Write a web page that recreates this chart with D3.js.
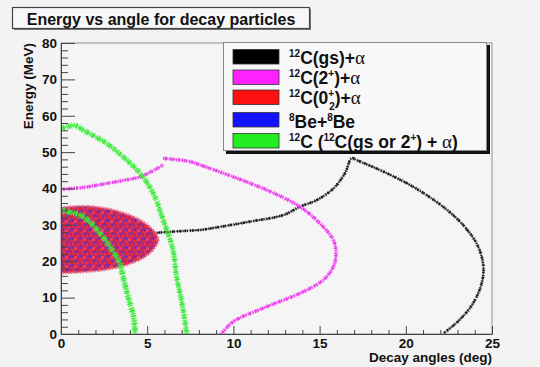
<!DOCTYPE html>
<html>
<head>
<meta charset="utf-8">
<script src="https://cdn.jsdelivr.net/npm/d3@7"></script>
<style>
  html, body { margin: 0; padding: 0; background: #f3f3f3; }
  svg { display: block; }
  text { font-family: "Liberation Sans", Arial, Helvetica, sans-serif; }
</style>
</head>
<body>
<svg id="chart" width="540" height="367"></svg>
<script>
// Energy (MeV) versus decay angle (deg) loci for each decay channel
const gsAlpha = [[0,26.5],[2,26.8],[4,27.2],[5.45,27.8],[7,28.3],[8.06,28.6],[9.03,29.3],[10.96,30.9],
  [12.9,32.7],[13.86,35],[14.83,36.8],[15.8,40],[16.47,44.2],[16.86,48.3],[17.15,47.8],[18.9,44.2],
  [20.6,40],[22.4,34.1],[23.5,29],[24.2,24],[24.5,18.5],[24.4,13.9],[23.9,8.4],[23.1,3.8],[22.2,0.2]];
const twoPlusLow = [[0,39.8],[1.3,40.3],[2.65,41.4],[3.6,42.2],[4.58,43.2],[5.3,44.8],[5.93,46.5]];
const twoPlusHigh = [[5.93,48.3],[7.48,47.4],[8.06,46.5],[9.99,43.2],[11.93,39.6],[13.86,35],[15.02,30.4],
  [15.8,25.8],[15.95,22.2],[15.8,18.5],[15.2,14.8],[13.86,11.2],[11.93,7.5],[9.99,3.4],[9.4,0.6],[9.25,0]];
const zeroPlusRegion = [[0,34.8],[1.2,35.2],[2.3,34.8],[3.5,33.5],[4.6,31.3],[5.3,28.8],[5.65,26],
  [5.4,23.5],[4.8,21],[3.8,19],[2.5,17.6],[1.2,17],[0,16.7]];
const sequentialOuter = [[0,56.5],[0.8,57.3],[1.3,56],[2.65,52.4],[3.6,48.7],[4.58,44.2],[5.35,38.7],
  [5.93,31.3],[6.5,23.1],[6.7,15.8],[7.0,9],[7.3,0]];
const sequentialInner = [[0,34],[1.3,32.2],[2.26,27.7],[2.84,24],[3.4,19.4],[3.6,15.8],[3.9,10],[4.2,5],[4.3,0]];

const xMajor = [0, 5, 10, 15, 20, 25];
const yMajor = [0, 10, 20, 30, 40, 50, 60, 70, 80];

const svg = d3.select("#chart");
const L = 61, R = 492, T = 43, B = 334;
const x = d3.scaleLinear().domain([0, 25]).range([L, R]);
const y = d3.scaleLinear().domain([0, 80]).range([B, T]);

// defs: clip and speckled fill for the 0+ region
const defs = svg.append("defs");
defs.append("clipPath").attr("id", "plotClip")
  .append("rect").attr("x", L).attr("y", T).attr("width", R - L).attr("height", B - T);
const pat = defs.append("pattern").attr("id", "speckle").attr("patternUnits", "userSpaceOnUse")
  .attr("width", 9).attr("height", 9);
pat.append("rect").attr("width", 9).attr("height", 9).attr("fill", "#a82a78");
[[1.5,1.5,"#f0283c",1.7],[6,2.2,"#e8304a",1.6],[3.5,5.5,"#ff3a50",1.7],[7.8,7.2,"#d82a40",1.4],
 [1,7.5,"#ee3048",1.2],[4.2,0.3,"#5a36c0",1],[0.3,4.4,"#4a30c8",1],[7.9,4.6,"#8a2aa8",1],[5.5,8.3,"#7a2cb0",0.8]]
 .forEach(d => {
  pat.append("circle").attr("cx", d[0]).attr("cy", d[1]).attr("r", d[3]).attr("fill", d[2]);
});

// plot frame
svg.append("rect").attr("x", L).attr("y", T).attr("width", R - L).attr("height", B - T)
  .attr("fill", "#f5f5f5").attr("stroke", "#a0a0a0").attr("stroke-width", 1.2);

const plot = svg.append("g").attr("clip-path", "url(#plotClip)");
const line = d3.line().x(d => x(d[0])).y(d => y(d[1])).curve(d3.curveCatmullRom.alpha(0.5));

// scattered-marker look along a locus
function grainy(data, color, width) {
  plot.append("path").datum(data).attr("d", line).attr("fill", "none")
    .attr("stroke", color).attr("stroke-width", width * 0.5).attr("opacity", 0.75)
    .attr("stroke-dasharray", "3 0.8 1.5 1.2 4 0.6");
  plot.append("path").datum(data).attr("d", line).attr("fill", "none")
    .attr("stroke", color).attr("stroke-width", width)
    .attr("stroke-dasharray", "1.2 0.9 2 1.6 0.8 1.1 1.7 0.7 1 1.9");
  plot.append("path").datum(data).attr("d", line).attr("fill", "none")
    .attr("stroke", color).attr("stroke-width", width * 1.45).attr("opacity", 0.3)
    .attr("stroke-dasharray", "0.9 2.6 1.2 3.4").attr("stroke-dashoffset", 1);
}

// 12C(gs)+alpha
grainy(gsAlpha, "#1a1a1a", 2.6);

// 12C(0+_2)+alpha and 8Be+8Be region
plot.append("path").datum(zeroPlusRegion.concat([[-0.2, 16.7], [-0.2, 34.8]]))
  .attr("d", line).attr("fill", "url(#speckle)")
  .attr("stroke", "#ee6a84").attr("stroke-width", 2.4).attr("stroke-dasharray", "1.4 1.1 2 1.4");

// 12C(2+)+alpha
grainy(twoPlusLow, "#ee3cee", 3.4);
grainy(twoPlusHigh, "#ee3cee", 3.4);

// sequential 12C(12C(gs or 2+)+alpha)
grainy(sequentialOuter, "#3bea3b", 5);
grainy(sequentialInner, "#3bea3b", 5.5);

// axes
const axisFont = "bold 13.5px 'Liberation Sans', Arial, sans-serif";
svg.append("g").attr("transform", `translate(0,${B})`)
  .call(d3.axisBottom(x).tickValues(xMajor).tickSizeInner(-8).tickSizeOuter(0).tickPadding(4)
    .tickFormat(d3.format("d")));
svg.append("g").attr("transform", `translate(0,${B})`)
  .call(d3.axisBottom(x).tickValues(d3.range(0, 26).filter(v => v % 5)).tickSize(-4).tickFormat(""))
  .call(g => g.select(".domain").remove());
svg.append("g").attr("transform", `translate(${L},0)`)
  .call(d3.axisLeft(y).tickValues(yMajor).tickSizeInner(-14).tickSizeOuter(0).tickPadding(4)
    .tickFormat(d3.format("d")));
svg.append("g").attr("transform", `translate(${L},0)`)
  .call(d3.axisLeft(y).tickValues(d3.range(0, 81, 2).filter(v => v % 10)).tickSize(-7).tickFormat(""))
  .call(g => g.select(".domain").remove());
svg.selectAll(".tick line, .domain").attr("stroke", "#444").attr("stroke-width", 1);
svg.selectAll(".tick text").style("font", axisFont).attr("fill", "#111");

// axis titles
svg.append("text").attr("x", R).attr("y", 362).attr("text-anchor", "end")
  .style("font", "bold 13.5px 'Liberation Sans', Arial, sans-serif").attr("fill", "#111")
  .text("Decay angles (deg)");
svg.append("text").attr("transform", `translate(33,${T}) rotate(-90)`).attr("text-anchor", "end")
  .style("font", "bold 13.5px 'Liberation Sans', Arial, sans-serif").attr("fill", "#111")
  .text("Energy (MeV)");

// title box
svg.append("rect").attr("x", 14).attr("y", 9).attr("width", 297).attr("height", 21).attr("fill", "#777");
svg.append("rect").attr("x", 12.5).attr("y", 7.5).attr("width", 297).attr("height", 21)
  .attr("fill", "#f7f7f7").attr("stroke", "#444").attr("stroke-width", 1.2);
svg.append("text").attr("x", 161).attr("y", 24.5).attr("text-anchor", "middle")
  .style("font", "bold 16px 'Liberation Sans', Arial, sans-serif").attr("fill", "#111")
  .text("Energy vs angle for decay particles");

// legend
const legendItems = ["black", "magenta", "red", "blue", "green"];
const legendColors = ["#000000", "#ff22ff", "#ff1111", "#1111ff", "#22ee22"];
const lg = svg.append("g");
lg.append("rect").attr("x", 226).attr("y", 45).attr("width", 264).attr("height", 109).attr("fill", "#111");
lg.append("rect").attr("x", 223.5).attr("y", 42.5).attr("width", 263).attr("height", 108)
  .attr("fill", "#f8f8f8").attr("stroke", "#888").attr("stroke-width", 1);
const rowTop = [49.5, 70, 90, 112.5, 133.5];
const rowBase = [63.5, 84, 104, 127.5, 148];
legendItems.forEach((k, i) => {
  lg.append("rect").attr("x", 233).attr("y", rowTop[i]).attr("width", 46).attr("height", 14.5)
    .attr("fill", legendColors[i]).attr("stroke", "#333").attr("stroke-width", 0.8);
});
const fs = 17.5, sup = 10;
function legendText(i, parts) {
  const t = lg.append("text").attr("x", 289).attr("y", rowBase[i]).attr("fill", "#111")
    .style("font-size", fs + "px").style("font-weight", "bold");
  parts.forEach(p => {
    const s = t.append("tspan").text(p.t);
    if (p.sup) s.style("font-size", sup + "px").attr("baseline-shift", "70%");
    if (p.sub) s.style("font-size", sup + "px").attr("baseline-shift", "-55%").attr("dx", p.dx || 0);
    if (p.greek) s.style("font-family", "'Liberation Serif', 'Times New Roman', serif")
      .style("font-weight", "normal").style("font-size", "19px");
  });
}
legendText(0, [{t: "12", sup: true}, {t: "C(gs)+"}, {t: "\u03b1", greek: true}]);
legendText(1, [{t: "12", sup: true}, {t: "C(2"}, {t: "+", sup: true}, {t: ")+"}, {t: "\u03b1", greek: true}]);
legendText(2, [{t: "12", sup: true}, {t: "C(0"}, {t: "+", sup: true}, {t: "2", sub: true, dx: -5}, {t: ")+"}, {t: "\u03b1", greek: true}]);
legendText(3, [{t: "8", sup: true}, {t: "Be+"}, {t: "8", sup: true}, {t: "Be"}]);
legendText(4, [{t: "12", sup: true}, {t: "C ("}, {t: "12", sup: true}, {t: "C(gs or 2"}, {t: "+", sup: true}, {t: ") + "}, {t: "\u03b1", greek: true}, {t: ")"}]);
</script>
</body>
</html>
